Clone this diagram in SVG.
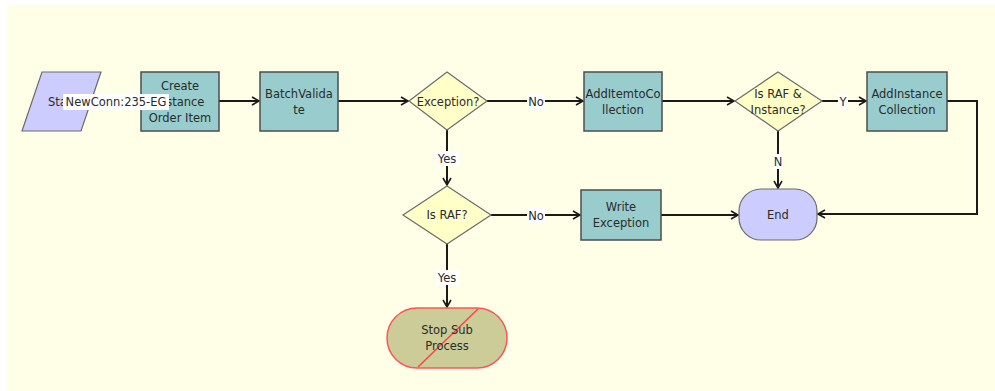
<svg xmlns="http://www.w3.org/2000/svg" width="995" height="391" viewBox="0 0 995 391">
<defs>
<style>
.box{fill:#99CCCC;stroke:#4d4d4d;stroke-width:1.5}
.dia{fill:#FFFFC8;stroke:#6b6b6b;stroke-width:1.2}
.term{fill:#CCCCFF;stroke:#6b6b6b;stroke-width:1.2}
.t{font-family:Tahoma,"DejaVu Sans","Liberation Sans",sans-serif;font-size:11.5px;fill:#2b2b2b;text-anchor:middle}
.c{fill:none;stroke:#1a1a1a;stroke-width:2}
.lbg{fill:#ffffff}
</style>
<marker id="ah" markerWidth="10" markerHeight="10" refX="8" refY="5" orient="auto" markerUnits="userSpaceOnUse">
<path d="M1,1 L8,5 L1,9" fill="none" stroke="#1a1a1a" stroke-width="1.6"/>
</marker>
</defs>
<rect x="0" y="0" width="995" height="391" fill="#ffffff"/>
<rect x="7" y="5" width="988" height="386" fill="#FFFFE8"/>

<g id="connectors">
<path class="c" d="M219,101 H259" marker-end="url(#ah)"/>
<path class="c" d="M338,101 H408" marker-end="url(#ah)"/>
<path class="c" d="M487,101 H583" marker-end="url(#ah)"/>
<path class="c" d="M662,101 H734" marker-end="url(#ah)"/>
<path class="c" d="M822,101 H866" marker-end="url(#ah)"/>
<path class="c" d="M947,101 H977 V214 H818" marker-end="url(#ah)"/>
<path class="c" d="M778,131 V188" marker-end="url(#ah)"/>
<path class="c" d="M447,130 V185" marker-end="url(#ah)"/>
<path class="c" d="M491,215 H580" marker-end="url(#ah)"/>
<path class="c" d="M661,215 H738" marker-end="url(#ah)"/>
<path class="c" d="M447,244 V307" marker-end="url(#ah)"/>
<rect class="lbg" x="527" y="94" width="18" height="15"/>
<text class="t" x="536" y="106">No</text>
<rect class="lbg" x="838" y="94" width="10" height="15"/>
<text class="t" x="843" y="106">Y</text>
<rect class="lbg" x="773" y="154" width="10" height="15"/>
<text class="t" x="778" y="166">N</text>
<rect class="lbg" x="435" y="151" width="24" height="15"/>
<text class="t" x="447" y="163">Yes</text>
<rect class="lbg" x="527" y="208" width="18" height="15"/>
<text class="t" x="536" y="220">No</text>
<rect class="lbg" x="435" y="270" width="24" height="15"/>
<text class="t" x="447" y="282">Yes</text>
</g>

<g id="start">
<polygon class="term" points="42,72 101,72 81,131 22,131"/>
<text class="t" x="62" y="106">Start</text>
</g>

<g id="create">
<rect class="box" x="141" y="72" width="78" height="59"/>
<text class="t" x="180" y="90">Create</text>
<text class="t" x="180" y="106">Instance</text>
<text class="t" x="180" y="122">Order Item</text>
</g>

<g id="startlabel">
<rect class="lbg" x="63" y="94" width="106" height="16"/>
<text class="t" x="116" y="106">NewConn:235-EG</text>
</g>

<g id="batch">
<rect class="box" x="260" y="72" width="78" height="59"/>
<text class="t" x="299" y="98">BatchValida</text>
<text class="t" x="299" y="114">te</text>
</g>

<g id="exception">
<polygon class="dia" points="447,72 487,101 447,130 409,101"/>
<text class="t" x="448" y="106">Exception?</text>
</g>

<g id="additem">
<rect class="box" x="584" y="72" width="78" height="59"/>
<text class="t" x="623" y="98">AddItemtoCo</text>
<text class="t" x="623" y="114">llection</text>
</g>

<g id="israfinst">
<polygon class="dia" points="778,72 822,101 778,131 735,101"/>
<text class="t" x="778" y="98">Is RAF &amp;</text>
<text class="t" x="778" y="114">Instance?</text>
</g>

<g id="addinst">
<rect class="box" x="867" y="72" width="80" height="59"/>
<text class="t" x="907" y="98">AddInstance</text>
<text class="t" x="907" y="114">Collection</text>
</g>

<g id="israf">
<polygon class="dia" points="447,186 491,215 447,244 403,215"/>
<text class="t" x="447" y="219">Is RAF?</text>
</g>

<g id="write">
<rect class="box" x="581" y="190" width="80" height="50"/>
<text class="t" x="621" y="211">Write</text>
<text class="t" x="621" y="227">Exception</text>
</g>

<g id="end">
<rect class="term" x="739" y="189" width="78" height="51" rx="22" ry="22"/>
<text class="t" x="778" y="219">End</text>
</g>

<g id="stop">
<rect x="387" y="308" width="120" height="60" rx="30" ry="30" fill="#CCCC99" stroke="#ff5555" stroke-width="1.5"/>
<line x1="418" y1="367" x2="478" y2="309" stroke="#ff4444" stroke-width="1.5"/>
<text class="t" x="447" y="334">Stop Sub</text>
<text class="t" x="447" y="350">Process</text>
</g>
</svg>
